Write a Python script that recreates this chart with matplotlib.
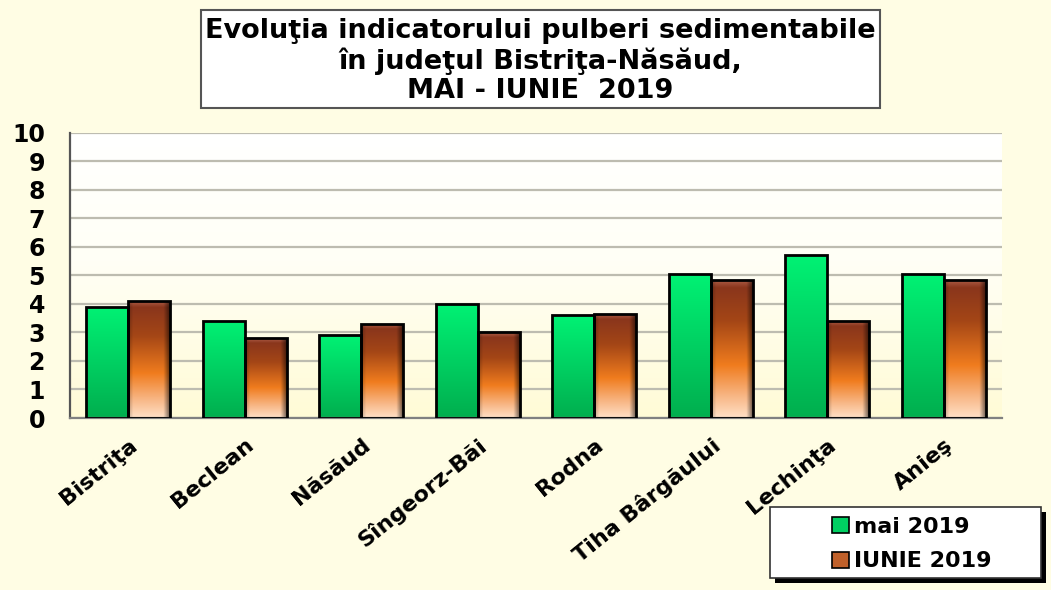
import numpy as np
import matplotlib
matplotlib.use('Agg')
from matplotlib import pyplot as plt
from matplotlib.patches import Rectangle, Patch
from matplotlib.colors import to_rgb

categories = ['Bistriţa', 'Beclean', 'Năsăud', 'Sîngeorz-Băi', 'Rodna',
              'Tiha Bârgăului', 'Lechinţa', 'Anieş']
mai_2019 = [3.9, 3.4, 2.9, 4.0, 3.6, 5.05, 5.7, 5.05]
iunie_2019 = [4.1, 2.8, 3.3, 3.0, 3.65, 4.85, 3.4, 4.85]
series_names = ['mai 2019', 'IUNIE 2019']
yticks = list(range(0, 11))
title = 'Evoluţia indicatorului pulberi sedimentabile\nîn judeţul Bistriţa-Năsăud,\nMAI - IUNIE  2019'

W, H = 1051, 590
bg = '#FFFDE4'


def vgrad(stops, n=200):
    # stops: list of (pos, colour), pos 0 = top, 1 = bottom
    pos = np.linspace(0, 1, n)
    ps = [p for p, c in stops]
    cols = np.array([to_rgb(c) for p, c in stops])
    out = np.stack([np.interp(pos, ps, cols[:, k]) for k in range(3)], axis=1)
    return out


def green_img():
    col = vgrad([(0, '#00F274'), (0.5, '#00D062'), (1, '#00AE4E')])
    img = np.repeat(col[:, None, :], 40, axis=1)
    return img


def brown_img():
    col = vgrad([(0, '#B0604A'), (0.06, '#8A361C'), (0.3, '#A44616'),
                 (0.62, '#F07C1E'), (0.85, '#F8B888'), (1, '#FFE0C6')])
    img = np.repeat(col[:, None, :], 60, axis=1)
    x = np.linspace(0, 1, 60)
    shade = np.ones_like(x)
    shade = np.minimum(shade, 0.75 + 0.25 * np.clip(x / 0.12, 0, 1))
    shade = np.minimum(shade, 0.45 + 0.55 * np.clip((1 - x) / 0.15, 0, 1))
    img = img * shade[None, :, None]
    return np.clip(img, 0, 1)


def fill_bars(ax, bars, img):
    for b in bars:
        x, y = b.get_x(), b.get_y()
        w, h = b.get_width(), b.get_height()
        im = ax.imshow(img, extent=[x, x + w, y, y + h], origin='upper',
                       aspect='auto', zorder=2.5, interpolation='bilinear')
        im.set_clip_path(b)


fig = plt.figure(figsize=(W / 100, H / 100), dpi=100, facecolor=bg)
ax = fig.add_axes([70 / W, 1 - 418 / H, (1002 - 70) / W, (418 - 132.5) / H])

# plot area background: white at top fading to pale yellow
back = vgrad([(0, '#FFFFFF'), (0.45, '#FFFFF6'), (1, '#FFFBD6')])
ax.imshow(back[:, None, :].repeat(2, axis=1), extent=[0, 1, 0, 1],
          transform=ax.transAxes, aspect='auto', zorder=0)

x = np.arange(len(categories))
bw = 0.36
b1 = ax.bar(x - bw / 2, mai_2019, bw, facecolor='none', edgecolor='black',
            linewidth=2, zorder=3)
b2 = ax.bar(x + bw / 2, iunie_2019, bw, facecolor='none', edgecolor='black',
            linewidth=2, zorder=3)
fill_bars(ax, b1, green_img())
fill_bars(ax, b2, brown_img())

ax.set_xlim(-0.5, len(categories) - 0.5)
ax.set_ylim(0, 10)
ax.set_yticks(yticks)
ax.set_yticklabels([str(t) for t in yticks], fontsize=17, fontweight='bold')
ax.yaxis.grid(True, color='#BDBCB0', linewidth=1.6, zorder=1)
ax.set_axisbelow(True)
ax.tick_params(axis='both', length=0)
ax.tick_params(axis='y', pad=18)
ax.set_xticks(x)
ax.set_xticklabels(categories, rotation=39, ha='right', va='top',
                   rotation_mode='anchor', fontsize=16, fontweight='bold')
ax.tick_params(axis='x', pad=12)
for s in ['top', 'right']:
    ax.spines[s].set_visible(False)
ax.spines['left'].set_color('#555555')
ax.spines['left'].set_linewidth(1.6)
ax.spines['bottom'].set_color('#808080')
ax.spines['bottom'].set_linewidth(1.6)
ax.patch.set_alpha(0)

# title box
fig.patches.append(Rectangle((201 / W, 1 - 108 / H), (880 - 201) / W, 98 / H,
                             transform=fig.transFigure, facecolor='white',
                             edgecolor='#555555', linewidth=1.5, zorder=1))
fig.text(540 / W, 1 - 61 / H, title, ha='center', va='center', fontsize=19.5,
         fontweight='bold', linespacing=1.16, zorder=2)

# legend box with black shadow
fig.patches.append(Rectangle((775 / W, 1 - 583 / H), 271 / W, 71 / H,
                             transform=fig.transFigure, facecolor='black',
                             edgecolor='none', zorder=1))
fig.patches.append(Rectangle((770 / W, 1 - 578 / H), 271 / W, 71 / H,
                             transform=fig.transFigure, facecolor='white',
                             edgecolor='#333333', linewidth=1.2, zorder=2))
handles = [Patch(facecolor='#00D062', edgecolor='black', linewidth=1.2),
           Patch(facecolor='#C0602A', edgecolor='black', linewidth=1.2)]
leg = fig.legend(handles, series_names, loc='upper left',
                 bbox_to_anchor=(812 / W, 1 - 497 / H), frameon=False,
                 prop={'size': 16, 'weight': 'bold'}, handlelength=0.75,
                 handleheight=0.75, handletextpad=0.25, labelspacing=0.65)
leg.set_zorder(3)

fig.savefig('out.png', dpi=100, facecolor=bg)
